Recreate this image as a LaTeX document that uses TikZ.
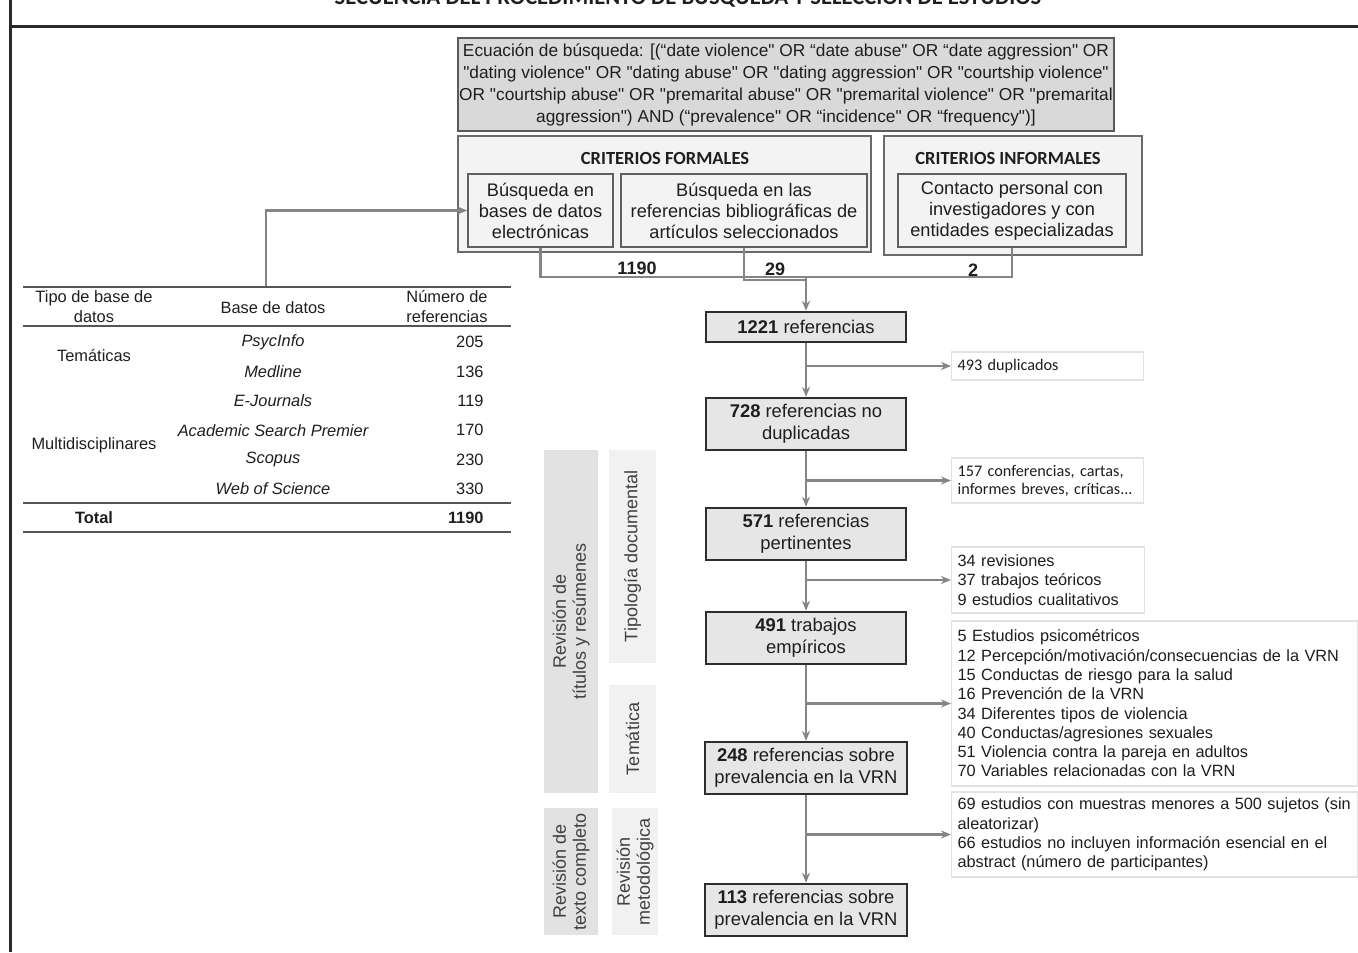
\documentclass[tikz,border=0pt]{standalone}
\usepackage{fontspec}
\newfontfamily\arial{Liberation Sans}
\newfontfamily\calibri{Carlito}
\usetikzlibrary{arrows.meta,positioning}

\definecolor{linegray}{HTML}{858585}
\definecolor{boxgray}{HTML}{E6E6E6}
\definecolor{boxline}{HTML}{2E2E2E}
\definecolor{eqgray}{HTML}{D9D9D9}
\definecolor{eqline}{HTML}{5A5A5A}
\definecolor{critgray}{HTML}{F3F3F3}
\definecolor{critline}{HTML}{6A6A6A}
\definecolor{sideline}{HTML}{E2E2E2}
\definecolor{banddark}{HTML}{E2E2E2}
\definecolor{bandlight}{HTML}{F1F1F1}
\definecolor{framegray}{HTML}{2A2A2A}
\definecolor{textgray}{HTML}{1E1E1E}

\begin{document}
\begin{tikzpicture}[x=0.5pt,y=-0.5pt,
    every node/.style={font=\arial,text=textgray},
    conn/.style={draw=linegray,line width=1.1pt},
    arr/.style={conn,-{Stealth[length=5pt,width=4pt]}},
    rule/.style={draw=framegray!80,line width=0.7pt},
    mainbox/.style={draw=boxline,fill=boxgray,line width=1.2pt,minimum width=100pt,
        minimum height=26pt,inner sep=0pt,align=center,
        font=\arial\fontsize{9.2}{11}\selectfont},
    critbox/.style={draw=critline,fill=critgray,line width=0.8pt,inner sep=0pt},
    inbox/.style={draw=critline!90!black,fill=critgray,line width=0.8pt,inner sep=0pt,
        minimum height=36.5pt,align=center,font=\arial\fontsize{9.1}{10.5}\selectfont},
    crittitle/.style={font=\calibri\bfseries\fontsize{9.25}{11}\selectfont},
    sidebox/.style={draw=sideline,fill=white,line width=0.6pt,anchor=west,align=left,
        inner xsep=3pt,inner ysep=1pt,font=\arial\fontsize{8.15}{9.65}\selectfont},
    sidecal/.style={sidebox,font=\calibri\fontsize{8.1}{9}\selectfont},
    band/.style={rotate=90,inner sep=0pt,align=center,text=textgray!85,
        font=\arial\fontsize{9}{10}\selectfont},
    tabcell/.style={inner sep=0pt,font=\arial\fontsize{8.2}{10}\selectfont},
    tabhead/.style={tabcell,align=center},
    numlabel/.style={inner sep=0pt,font=\arial\bfseries\fontsize{9}{10}\selectfont}
  ]
  \useasboundingbox (0,0) rectangle (1358,952);

  % cut title and frame
  \begin{scope}
    \clip (0,0) rectangle (1358,27);
    \node[anchor=base,inner sep=0pt,font=\calibri\bfseries\fontsize{11.3}{13}\selectfont]
      (titulo) at (688,5) {SECUENCIA DEL PROCEDIMIENTO DE BÚSQUEDA Y SELECCIÓN DE ESTUDIOS};
  \end{scope}
  \draw[draw=framegray,line width=1.5pt] (10,952) -- (10,0);
  \draw[draw=framegray,line width=1.5pt] (9.3,27) -- (1358,27);

  % search equation
  \node[draw=eqline,fill=eqgray,line width=0.8pt,minimum width=328pt,minimum height=46.5pt,
      inner sep=0pt,align=center,font=\arial\fontsize{8.65}{11}\selectfont]
    (ecuacion) at (786,84.5)
    {Ecuación de búsqueda: [(“date violence" OR “date abuse" OR “date aggression" OR\\
     "dating violence" OR "dating abuse" OR "dating aggression" OR "courtship violence"\\
     OR "courtship abuse" OR "premarital abuse" OR "premarital violence" OR "premarital\\
     aggression") AND (“prevalence" OR “incidence" OR “frequency")]};

  % criteria
  \node[critbox,minimum width=206.5pt,minimum height=58pt] (formal) at (664.5,194) {};
  \node[critbox,minimum width=129pt,minimum height=59.5pt] (informal) at (1013,195.5) {};
  \node[crittitle] (tformal) at (665,158) {CRITERIOS FORMALES};
  \node[crittitle] (tinformal) at (1008,158) {CRITERIOS INFORMALES};
  \node[inbox,minimum width=72.5pt] (busq1) at (540.5,210.5)
    {Búsqueda en\\bases de datos\\electrónicas};
  \node[inbox,minimum width=123pt] (busq2) at (744,210.5)
    {Búsqueda en las\\referencias bibliográficas de\\artículos seleccionados};
  \node[inbox,minimum width=114pt] (contacto) at (1012,210.5)
    {Contacto personal con\\investigadores y con\\entidades especializadas};

  \coordinate (junta) at (806,277);
  \draw[conn] (busq1.south) |- (contacto.south |- junta) -- (contacto.south);
  \draw[conn] (busq2.south) |- ([yshift=-1.5pt]junta);
  \node[numlabel] (n1190) at (637,268) {1190};
  \node[numlabel] (n29) at (775,269) {29};
  \node[numlabel] (n2) at (973,270) {2};

  % database table
  \coordinate (tabtop) at (266,287);
  \draw[arr] (tabtop) |- (busq1.west);
  \draw[rule] (23,287) -- (511,287);
  \draw[rule] (23,326) -- (511,326);
  \draw[rule] (23,503) -- (511,503);
  \draw[rule] (23,532) -- (511,532);
  \node[tabhead] (htipo) at (94,307) {Tipo de base de\\datos};
  \node[tabhead] (hbase) at (273,308) {Base de datos};
  \node[tabhead] (hnum) at (447,307) {Número de\\referencias};
  \foreach \base/\num [count=\i] in {PsycInfo/205,Medline/136,E-Journals/119,
      Academic Search Premier/170,Scopus/230,Web of Science/330} {
    \node[tabcell,font=\arial\itshape\fontsize{8.2}{9}\selectfont] (db\i)
      at (273,{342+29.4*(\i-1)}) {\base};
    \node[tabcell,anchor=east] (ref\i) at (484,{342+29.4*(\i-1)}) {\num};
  }
  \node[tabcell] (tematicas) at (94,356) {Temáticas};
  \node[tabcell] (multi) at (94,445) {Multidisciplinares};
  \node[tabcell,font=\arial\bfseries\fontsize{8.2}{9}\selectfont] (total) at (94,518) {Total};
  \node[tabcell,anchor=east,font=\arial\bfseries\fontsize{8.2}{9}\selectfont] (reftotal)
    at (484,518) {1190};

  % phase bands
  \node[band,fill=banddark,minimum width=171.5pt,minimum height=27pt] (revtit)
    at (571,621.5) {Revisión de\\títulos y resúmenes};
  \node[band,fill=bandlight,minimum width=106.5pt,minimum height=23.5pt] (tipo)
    at (632.5,556.5) {Tipología documental};
  \node[band,fill=bandlight,minimum width=54pt,minimum height=23.5pt] (tema)
    at (632.5,739) {Temática};
  \node[band,fill=banddark,minimum width=63.5pt,minimum height=27pt] (revtex)
    at (571,871.5) {Revisión de\\texto completo};
  \node[band,fill=bandlight,minimum width=63.5pt,minimum height=23pt] (metod)
    at (635,871.5) {Revisión\\metodológica};

  % selection chain
  \node[mainbox,minimum height=15pt] (n1221) at (806,327) {\textbf{1221} referencias};
  \node[mainbox] (n728) at (806,424) {\textbf{728} referencias no\\duplicadas};
  \node[mainbox] (n571) at (806,534) {\textbf{571} referencias\\pertinentes};
  \node[mainbox] (n491) at (806,638) {\textbf{491} trabajos\\empíricos};
  \node[mainbox,minimum width=101pt] (n248) at (806,768)
    {\textbf{248} referencias sobre\\prevalencia en la VRN};
  \node[mainbox,minimum width=101pt] (n113) at (806,910)
    {\textbf{113} referencias sobre\\prevalencia en la VRN};

  \draw[arr] (junta) -- (n1221);
  \draw[arr] (n1221) -- (n728);
  \draw[arr] (n728) -- (n571);
  \draw[arr] (n571) -- (n491);
  \draw[arr] (n491) -- (n248);
  \draw[arr] (n248) -- (n113);

  % excluded
  \node[sidecal,text width=90pt,minimum height=14pt] (s493) at (951,366) {493 duplicados};
  \node[sidecal,text width=90pt,minimum height=22.5pt] (s157) at (951,480.5)
    {157 conferencias, cartas,\\informes breves, críticas...};
  \node[sidebox,text width=90.5pt,minimum height=33pt] (s34) at (951,580)
    {34 revisiones\\37 trabajos teóricos\\9 estudios cualitativos};
  \node[sidebox,text width=197pt,minimum height=82.5pt] (s5) at (951,703.5)
    {5 Estudios psicométricos\\
     12 Percepción/motivación/consecuencias de la VRN\\
     15 Conductas de riesgo para la salud\\
     16 Prevención de la VRN\\
     34 Diferentes tipos de violencia\\
     40 Conductas/agresiones sexuales\\
     51 Violencia contra la pareja en adultos\\
     70 Variables relacionadas con la VRN};
  \node[sidebox,text width=197pt,minimum height=42.5pt] (s69) at (951,834.5)
    {69 estudios con muestras menores a 500 sujetos (sin\\
     aleatorizar)\\
     66 estudios no incluyen información esencial en el\\
     abstract (número de participantes)};

  \draw[arr] (n1221.south |- s493.west) -- (s493.west);
  \draw[arr] (n728.south |- s157.west) -- (s157.west);
  \draw[arr] (n571.south |- s34.west) -- (s34.west);
  \draw[arr] (n491.south |- s5.west) -- (s5.west);
  \draw[arr] (n248.south |- s69.west) -- (s69.west);
\end{tikzpicture}
\end{document}
